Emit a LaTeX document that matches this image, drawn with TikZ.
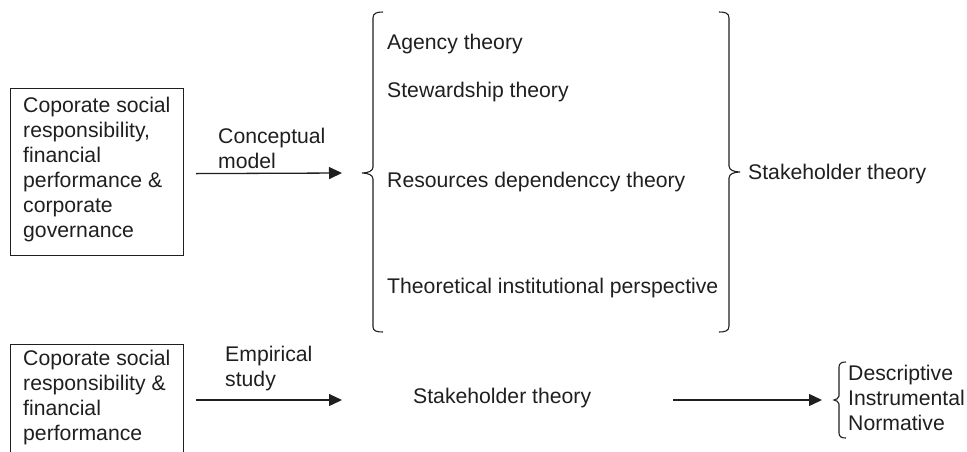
\documentclass[tikz,border=0pt]{standalone}
\usepackage{fontspec}
\setmainfont{Liberation Sans}
\usetikzlibrary{arrows.meta}
\begin{document}
\begin{tikzpicture}[x=1pt,y=-1pt,
  txt/.style={font=\fontsize{21.2}{25}\selectfont, inner sep=0pt, text=black!88},
  boxst/.style={draw=black!88, line width=1.2pt, inner sep=0pt, minimum width=173pt, minimum height=167pt, anchor=north west},
  arr/.style={draw=black!88, line width=1.3pt, -{Triangle[length=13pt,width=12pt,fill=black!88]}},
  br/.style={draw=black!88, line width=1.1pt}]
\useasboundingbox (0,0) rectangle (967,451);
% boxes
\node[boxst] (box1) at (10,88) {};
\node[txt, align=left, anchor=north west] (t1) at (23,96.7) {Coporate social\\responsibility,\\financial\\performance \&\\corporate\\governance};
\node[boxst, minimum height=150pt] (box2) at (10,344) {};
\node[txt, align=left, anchor=north west] (t2) at (23,349.7) {Coporate social\\responsibility \&\\financial\\performance};
% arrow labels
\node[txt, align=left, anchor=north west] (l1) at (218,127.7) {Conceptual\\model};
\node[txt, align=left, anchor=north west] (l2) at (225,345.8) {Empirical\\study};
% theories
\node[txt, anchor=base west] (ag) at (387,49) {Agency theory};
\node[txt, anchor=base west] (sw) at (387,97) {Stewardship theory};
\node[txt, anchor=base west] (rd) at (387,187) {Resources dependenccy theory};
\node[txt, anchor=base west] (ti) at (387,293) {Theoretical institutional perspective};
\node[txt, anchor=base west] (sh1) at (748,179) {Stakeholder theory};
\node[txt, anchor=base west] (sh2) at (413,403) {Stakeholder theory};
\node[txt, anchor=base west] (de) at (848,380) {Descriptive};
\node[txt, anchor=base west] (in) at (848,405) {Instrumental};
\node[txt, anchor=base west] (no) at (848,430) {Normative};
% brace tips
\coordinate (ltip) at (362,173);
\coordinate (rtip) at (740,172);
\coordinate (stip) at (834,400);
% braces
\draw[br] (383,12) .. controls (377,12) and (373,13) .. (373,18) -- (373,167) .. controls (373,171) and (368,173) .. (ltip) .. controls (368,173) and (373,175) .. (373,179) -- (373,327) .. controls (373,331) and (377,332) .. (383,332);
\draw[br] (719,12) .. controls (725,12) and (729,13) .. (729,18) -- (729,166) .. controls (729,170) and (734,172) .. (rtip) .. controls (734,172) and (729,174) .. (729,178) -- (729,326) .. controls (729,331) and (725,332) .. (719,332);
\draw[br] (846,362) .. controls (842,362) and (839,363) .. (839,367) -- (839,396) .. controls (839,398) and (836,400) .. (stip) .. controls (836,400) and (839,402) .. (839,404) -- (839,433) .. controls (839,437) and (842,438) .. (846,438);
% arrows
\draw[arr] ([xshift=12pt,yshift=-1.5pt]box1.east) -- ([xshift=-20pt]ltip);
\draw[arr] ([xshift=12pt]box2.east |- stip) -- ([xshift=-71pt]sh2.west |- stip);
\draw[arr] ([xshift=82pt]sh2.east |- stip) -- ([xshift=-12pt]stip);
\end{tikzpicture}
\end{document}
